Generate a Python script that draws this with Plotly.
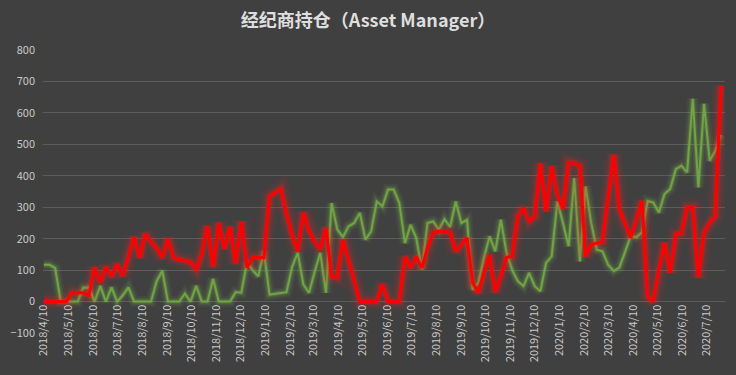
import pandas as pd
import plotly.graph_objects as go

title_text = "经纪商持仓（Asset Manager）"
start_date = "2018-04-10"

red_values = [
    0, 0, 0, 0, 0, 28, 28, 28, 20, 108,
    60, 110, 80, 118, 82, 145, 205, 140, 215, 190,
    170, 140, 200, 140, 133, 130, 125, 103, 150, 240,
    110, 250, 168, 238, 120, 255, 108, 140, 140, 140,
    334, 345, 358, 280, 210, 160, 283, 225, 190, 165,
    235, 80, 76, 197, 130, 60, 0, 0, 0, 0,
    54, 0, 0, 0, 142, 107, 142, 107, 170, 220,
    223, 223, 220, 160, 180, 202, 60, 28, 90, 149,
    30, 80, 140, 144, 270, 298, 255, 270, 440, 287,
    430, 340, 295, 442, 440, 432, 144, 181, 186, 190,
    330, 467, 293, 250, 203, 260, 320, 17, 0, 100,
    187, 92, 214, 217, 299, 299, 76, 219, 251, 272,
    687,
]

green_values = [
    117, 117, 107, 0, 0, 0, 0, 44, 45, 0,
    50, 0, 45, 0, 20, 45, 0, 0, 0, 0,
    65, 98, 0, 0, 0, 25, 0, 50, 0, 0,
    72, 0, 0, 0, 30, 28, 125, 100, 80, 160,
    22, 25, 27, 30, 110, 155, 54, 28, 95, 155,
    28, 313, 230, 205, 239, 250, 282, 197, 223, 318,
    303, 356, 356, 313, 186, 244, 202, 102, 250, 255,
    229, 262, 237, 318, 250, 260, 38, 60, 140, 207,
    160, 260, 155, 100, 65, 49, 91, 49, 33, 123,
    144, 318, 250, 176, 393, 128, 366, 250, 165, 160,
    117, 97, 108, 160, 208, 205, 220, 320, 315, 283,
    342, 358, 421, 432, 411, 645, 363, 629, 448, 480,
    530,
]

tick_labels = [
    "2018/4/10", "2018/5/10", "2018/6/10", "2018/7/10", "2018/8/10",
    "2018/9/10", "2018/10/10", "2018/11/10", "2018/12/10", "2019/1/10",
    "2019/2/10", "2019/3/10", "2019/4/10", "2019/5/10", "2019/6/10",
    "2019/7/10", "2019/8/10", "2019/9/10", "2019/10/10", "2019/11/10",
    "2019/12/10", "2020/1/10", "2020/2/10", "2020/3/10", "2020/4/10",
    "2020/5/10", "2020/6/10", "2020/7/10",
]

y_ticks = [-100, 0, 100, 200, 300, 400, 500, 600, 700, 800]

dates = pd.date_range(start_date, periods=len(red_values), freq="7D")
tick_dates = [pd.to_datetime(t, format="%Y/%m/%d") for t in tick_labels]

fig = go.Figure()


def add_glow_line(values, core_color, glow_color, core_width, glow_layers):
    for w, op in glow_layers:
        fig.add_trace(go.Scatter(
            x=dates, y=values, mode="lines",
            line=dict(color=glow_color, width=w, shape="linear"),
            opacity=op, hoverinfo="skip", showlegend=False,
        ))
    fig.add_trace(go.Scatter(
        x=dates, y=values, mode="lines",
        line=dict(color=core_color, width=core_width),
        showlegend=False,
    ))


add_glow_line(green_values, "#70A444", "#8fd050", 2,
              [(11, 0.06), (7, 0.10), (4, 0.18)])
add_glow_line(red_values, "#FF0000", "#ff2020", 3.2,
              [(17, 0.07), (11, 0.12), (6, 0.24)])

fig.update_layout(
    width=736, height=375,
    paper_bgcolor="#404040", plot_bgcolor="#404040",
    margin=dict(l=38, r=11, t=50, b=42),
    title=dict(
        text=title_text, x=0.5, xanchor="center", y=0.944, yanchor="middle",
        font=dict(family="Noto Sans CJK SC", size=18, color="#dedede",
                  weight="bold"),
    ),
    font=dict(family="Noto Sans CJK SC", size=11, color="#c8c8c8"),
    xaxis=dict(
        type="date",
        range=[pd.Timestamp("2018-04-09"), pd.Timestamp("2020-08-02")],
        tickvals=tick_dates, ticktext=tick_labels, tickangle=-90,
        showgrid=False, zeroline=False, showline=False, ticks="",
        anchor="free", position=100 / 900,
        tickfont=dict(size=11, color="#c8c8c8"),
    ),
    yaxis=dict(
        range=[-100, 800], tickvals=y_ticks,
        showgrid=True, gridcolor="#5c5c5c", gridwidth=1,
        zeroline=False, showline=False, ticks="",
        ticklabelstandoff=7,
        tickfont=dict(size=11, color="#c8c8c8"),
    ),
)

fig.write_html(
    "out.html",
    config={"displayModeBar": False},
    post_script="document.body.style.margin='0';"
                "document.body.style.background='#404040';",
)
